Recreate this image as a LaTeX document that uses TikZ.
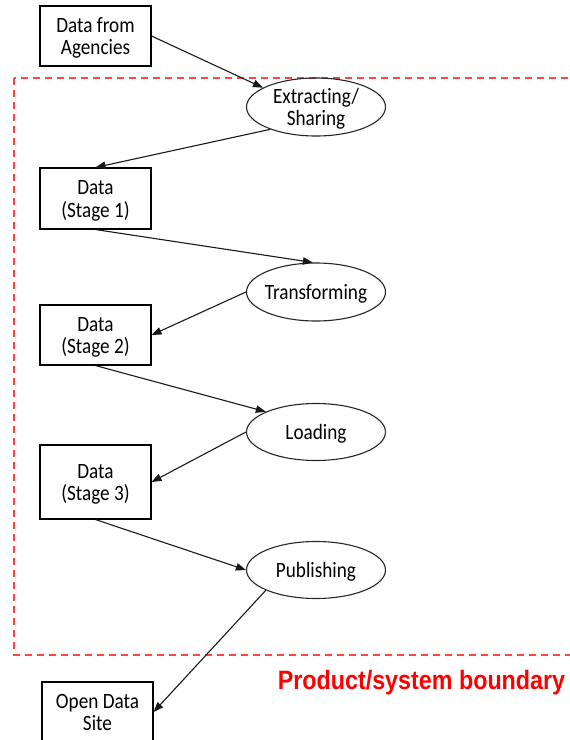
\documentclass[tikz,border=0pt]{standalone}
\usepackage{fontspec}
\usepackage{graphicx}
\setmainfont{Carlito}[Ligatures=NoCommon]
\newfontfamily\labelfont{Liberation Sans}
\usetikzlibrary{shapes.geometric,arrows.meta}

% text block, centred lines, slightly tall glyphs, set a little low
\newcommand{\blocktext}[1]{\raisebox{-3pt}[\height][\depth]{\scalebox{1}[1.14]{\begin{tabular}{@{}c@{}}#1\end{tabular}}}}

\tikzset{
  databox/.style={draw=black, line width=1.1pt, rectangle, minimum width=111pt,
    minimum height=60pt, inner sep=0pt, font=\fontsize{19.2}{19.4}\selectfont},
  procnode/.style={draw=black!85, line width=1.1pt, ellipse, minimum width=139pt,
    minimum height=58pt, inner xsep=-8pt, inner ysep=-6pt, font=\fontsize{19.2}{19.4}\selectfont},
  flow/.style={draw=black!90, line width=1.1pt, -{Triangle[length=10pt,width=7.5pt]}},
  boundary/.style={draw={rgb,255:red,250;green,70;blue,70}, line width=1.3pt,
    dash pattern=on 7pt off 5pt},
}

\begin{document}
\begin{tikzpicture}[x=1pt, y=-1pt]
  \clip (0,0) rectangle (570,740);

  % system boundary
  \draw[boundary] (14,78) rectangle (590,655);
  \node[anchor=base, text=red, font=\labelfont\bfseries\fontsize{23.3}{28}\selectfont, inner sep=0pt]
    (boundlabel) at (421.5,689) {\scalebox{1}[1.14]{Product/system boundary}};

  % data stores
  \node[databox] (agencies) at (95.5,36)  {\blocktext{Data from\\Agencies}};
  \node[databox, minimum height=61pt] (stage1) at (95.5,198.5) {\blocktext{Data\\(Stage 1)}};
  \node[databox] (stage2) at (95.5,335)   {\blocktext{Data\\(Stage 2)}};
  \node[databox, minimum height=74pt] (stage3) at (95.5,482) {\blocktext{Data\\(Stage 3)}};
  \node[databox] (opendata) at (97.5,712) {\blocktext{Open Data\\Site}};

  % processes
  \node[procnode] (extract)   at (316,107) {\blocktext{Extracting/\\Sharing}};
  \node[procnode] (transform) at (316,292) {\blocktext{Transforming}};
  \node[procnode, minimum height=57pt] (load) at (316,432) {\blocktext{Loading}};
  \node[procnode, minimum height=57pt] (publish) at (316,570) {\blocktext{Publishing}};

  % flow of data
  \draw[flow] (agencies.east) -- (extract.160);
  \draw[flow] (extract.206) -- (stage1.north);
  \draw[flow] (stage1.south) -- (transform.96);
  \draw[flow] (transform.180) -- (stage2.east);
  \draw[flow] (stage2.south) -- (load.158);
  \draw[flow] (load.180) -- (stage3.east);
  \draw[flow] (stage3.south) -- (publish.west);
  \draw[flow] (publish.202) -- (opendata.east);
\end{tikzpicture}
\end{document}
